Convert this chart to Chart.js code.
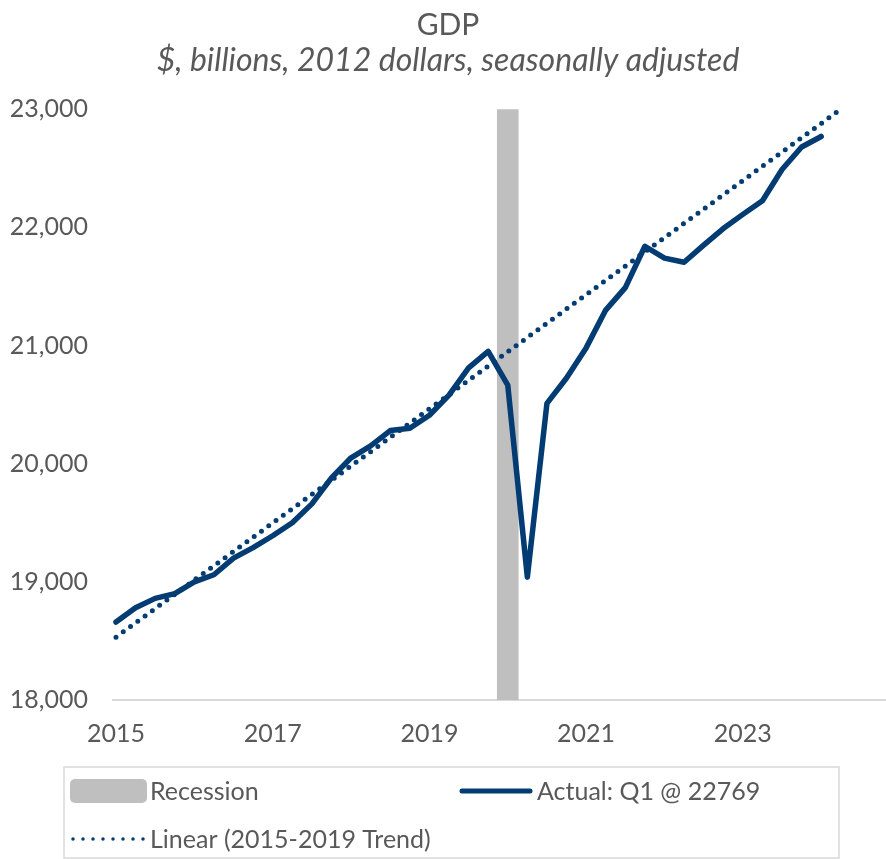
<!DOCTYPE html>
<html>
<head>
<meta charset="utf-8">
<script src="https://cdn.jsdelivr.net/npm/chart.js@4.4.1/dist/chart.umd.min.js"></script>
<style>
  html, body { margin: 0; padding: 0; background: #fff; }
  #wrap { width: 886px; height: 859px; }
</style>
</head>
<body>
<div id="wrap"><canvas id="gdpChart" width="886" height="859"></canvas></div>
<script>
const quarters = [
  '2015Q1', '2015Q2', '2015Q3', '2015Q4',
  '2016Q1', '2016Q2', '2016Q3', '2016Q4',
  '2017Q1', '2017Q2', '2017Q3', '2017Q4',
  '2018Q1', '2018Q2', '2018Q3', '2018Q4',
  '2019Q1', '2019Q2', '2019Q3', '2019Q4',
  '2020Q1', '2020Q2', '2020Q3', '2020Q4',
  '2021Q1', '2021Q2', '2021Q3', '2021Q4',
  '2022Q1', '2022Q2', '2022Q3', '2022Q4',
  '2023Q1', '2023Q2', '2023Q3', '2023Q4',
  '2024Q1'
];
const gdpActual = [
  18660, 18780, 18860, 18900,
  19000, 19060, 19200, 19290,
  19390, 19500, 19660, 19880,
  20050, 20150, 20280, 20300,
  20410, 20580, 20810, 20950,
  20665, 19040, 20510, 20725,
  20980, 21300, 21490, 21840,
  21740, 21705, 21850, 21990,
  22110, 22225, 22490, 22680,
  22769
];

// Tendencia lineal 2015-2019 (extremos de la recta punteada)
const trendQuarters = ['2015Q1', '2024Q2'];
const trendValues = [18532, 23000];

// Recesion (barra gris)
const recessionQuarters = ['2020Q1'];

const yTicks = [18000, 19000, 20000, 21000, 22000, 23000];
const xTickYears = [2015, 2017, 2019, 2021, 2023];

const gris = '#595959';

// '2016Q3' -> 2016.5
function quarterToYear(q) {
  return Number(q.slice(0, 4)) + (Number(q.slice(5)) - 1) / 4;
}

// Leyenda con recuadro, dibujada a mano (dos columnas como en Excel)
const legendBox = {
  id: 'legendBox',
  afterDraw(chart) {
    const ctx = chart.ctx;
    const sets = chart.data.datasets;
    const rec = sets.find(d => d.label === 'Recession');
    const act = sets.find(d => d.label.startsWith('Actual'));
    const lin = sets.find(d => d.label.startsWith('Linear'));
    ctx.save();
    ctx.strokeStyle = '#D9D9D9';
    ctx.lineWidth = 1.5;
    ctx.strokeRect(64, 767, 775, 91);

    // Recession
    ctx.fillStyle = rec.backgroundColor;
    ctx.beginPath();
    ctx.roundRect(70, 779, 77, 24, 5);
    ctx.fill();

    // Actual
    ctx.strokeStyle = act.borderColor;
    ctx.lineWidth = 5;
    ctx.lineCap = 'round';
    ctx.beginPath();
    ctx.moveTo(462, 791);
    ctx.lineTo(530, 791);
    ctx.stroke();

    // Linear (puntos)
    ctx.strokeStyle = lin.borderColor;
    ctx.lineWidth = 3.5;
    ctx.setLineDash([0, 10]);
    ctx.beginPath();
    ctx.moveTo(73, 839);
    ctx.lineTo(144, 839);
    ctx.stroke();
    ctx.setLineDash([]);

    ctx.fillStyle = gris;
    ctx.font = '25px Lato';
    ctx.textBaseline = 'middle';
    ctx.fillText(rec.label, 150, 792);
    ctx.fillText(act.label, 537, 792);
    ctx.fillText(lin.label, 150, 840);
    ctx.restore();
  }
};

function dibujar() {
  const ctx = document.getElementById('gdpChart').getContext('2d');
  new Chart(ctx, {
    type: 'line',
    data: {
      datasets: [
        {
          label: 'Actual: Q1 @ 22769',
          data: quarters.map((q, i) => ({ x: quarterToYear(q), y: gdpActual[i] })),
          borderColor: '#033C72',
          borderWidth: 5.5,
          borderJoinStyle: 'round',
          borderCapStyle: 'round',
          pointRadius: 0,
          tension: 0,
          order: 1
        },
        {
          label: 'Linear (2015-2019 Trend)',
          data: trendQuarters.map((q, i) => ({ x: quarterToYear(q), y: trendValues[i] })),
          borderColor: '#033C72',
          borderWidth: 5,
          borderDash: [0, 9],
          borderCapStyle: 'round',
          pointRadius: 0,
          order: 2
        },
        {
          type: 'bar',
          label: 'Recession',
          data: recessionQuarters.map(q => ({ x: quarterToYear(q), y: [yTicks[0], yTicks[yTicks.length - 1]] })),
          backgroundColor: '#BFBFBF',
          barThickness: 21,
          order: 3
        }
      ]
    },
    options: {
      responsive: false,
      animation: false,
      layout: { padding: { left: 8, right: -2, top: 0, bottom: 110 } },
      plugins: {
        legend: { display: false },
        tooltip: { enabled: false },
        title: {
          display: true,
          text: 'GDP',
          color: gris,
          font: { family: 'Lato', size: 30, weight: 'normal' },
          padding: { top: 7, bottom: 0 }
        },
        subtitle: {
          display: true,
          text: '$, billions, 2012 dollars, seasonally adjusted',
          color: gris,
          font: { family: 'Lato', size: 32, style: 'italic', lineHeight: 1.1 },
          padding: { top: 0, bottom: 31 }
        }
      },
      scales: {
        x: {
          type: 'linear',
          offset: false,
          min: 2014.962,
          max: 2024.827,
          grid: { display: false, drawTicks: false },
          border: { display: true, color: '#D9D9D9', width: 2 },
          afterBuildTicks: axis => { axis.ticks = xTickYears.map(v => ({ value: v })); },
          afterFit: axis => { axis.height = 49; },
          ticks: {
            color: gris,
            padding: 19,
            maxRotation: 0,
            font: { family: 'Lato', size: 25 },
            callback: v => String(v)
          }
        },
        y: {
          min: yTicks[0],
          max: yTicks[yTicks.length - 1],
          grid: { display: false, drawTicks: false },
          border: { display: false },
          afterBuildTicks: axis => { axis.ticks = yTicks.map(v => ({ value: v })); },
          afterFit: axis => { axis.width = 105; },
          ticks: {
            color: gris,
            padding: 25,
            font: { family: 'Lato', size: 25 },
            callback: v => v.toLocaleString('en-US')
          }
        }
      }
    },
    plugins: [legendBox]
  });
}

document.fonts.load('25px Lato').then(dibujar, dibujar);
</script>
</body>
</html>
